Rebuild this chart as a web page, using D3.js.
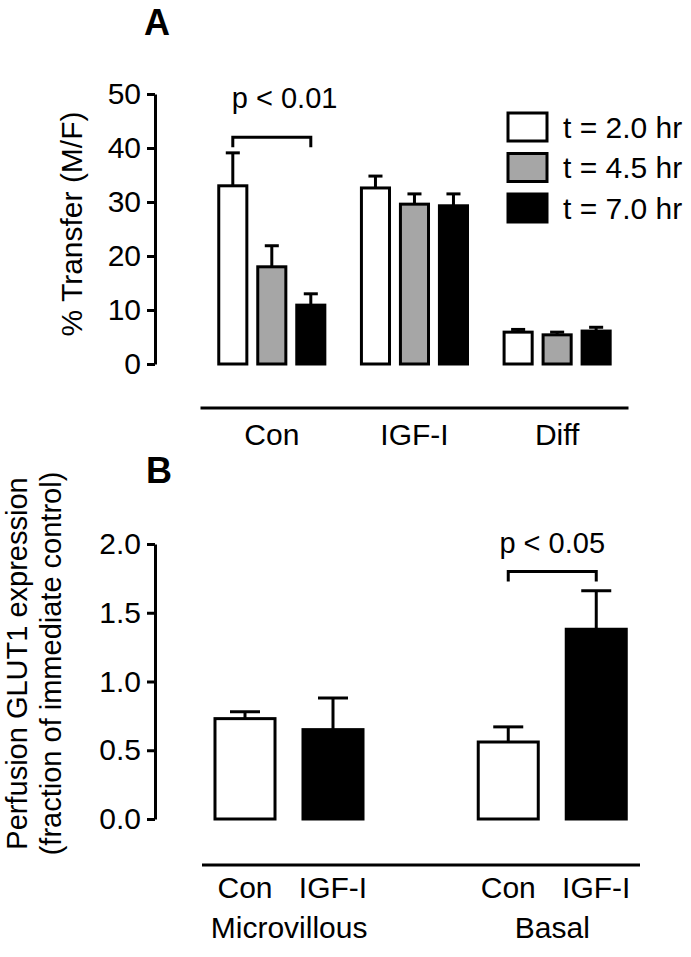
<!DOCTYPE html>
<html>
<head>
<meta charset="utf-8">
<script src="https://cdn.jsdelivr.net/npm/d3@7"></script>
<style>
  html, body { margin: 0; padding: 0; background: #fff; }
  svg { display: block; font-family: "Liberation Sans", Arial, sans-serif; }
</style>
</head>
<body>
<svg id="chart" width="691" height="957"></svg>
<script>
// ---------- Panel A data ----------
const groupsA = ["Con", "IGF-I", "Diff"];
const seriesA = ["t = 2.0 hr", "t = 4.5 hr", "t = 7.0 hr"];
const meansT20 = [33.0, 32.6, 5.9];
const meansT45 = [18.0, 29.6, 5.4];
const meansT70 = [10.9, 29.3, 6.1];
const errT20 = [6.1, 2.2, 0.5];
const errT45 = [3.9, 1.9, 0.5];
const errT70 = [2.1, 2.2, 0.7];
const ticksA = [0, 10, 20, 30, 40, 50];
const yLabelA = "% Transfer (M/F)";
const sigA = { group: "Con", from: "t = 2.0 hr", to: "t = 7.0 hr", level: 42, label: "p < 0.01" };

// ---------- Panel B data ----------
const groupsB = ["Microvillous", "Basal"];
const treatmentsB = ["Con", "IGF-I"];
const meansCon = [0.73, 0.56];
const meansIGF = [0.65, 1.38];
const errCon = [0.05, 0.11];
const errIGF = [0.23, 0.28];
const ticksB = [0.0, 0.5, 1.0, 1.5, 2.0];
const yLabelB = ["Perfusion GLUT1 expression", "(fraction of immediate control)"];
const sigB = { group: "Basal", from: "Con", to: "IGF-I", level: 1.8, label: "p < 0.05" };

const fills = ["#ffffff", "#a6a6a6", "#000000"];
const fillsB = ["#ffffff", "#000000"];

const svg = d3.select("#chart");
const SW = 3;

// ---------------- PANEL A ----------------
const yA = d3.scaleLinear().domain([0, 50]).range([364, 94]);
const xA = d3.scaleBand().domain(groupsA).range([200.5, 628.5]).padding(0);
const innerA = d3.scaleBand().domain(seriesA)
  .range([12.8, 129.8]).paddingInner(0.28).paddingOuter(0.14);

const rowsA = [];
groupsA.forEach((g, gi) => {
  [[meansT20, errT20], [meansT45, errT45], [meansT70, errT70]].forEach(([m, e], si) => {
    rowsA.push({ g, s: seriesA[si], si, v: m[gi], e: e[gi] });
  });
});

const gA = svg.append("g");
const axA = gA.append("g").attr("transform", "translate(155,0)")
  .call(d3.axisLeft(yA).tickValues(ticksA).tickSize(8).tickSizeOuter(0).tickPadding(6).tickFormat(d3.format("d")));
axA.select(".domain").attr("stroke-width", SW);
axA.selectAll(".tick line").attr("stroke-width", SW);
axA.selectAll(".tick text").attr("font-size", 30).attr("font-family", "Liberation Sans, Arial, sans-serif").attr("fill", "#000");

const bxA = d => xA(d.g) + innerA(d.s);
gA.selectAll("line.errA").data(rowsA).join("line")
  .attr("x1", d => bxA(d) + innerA.bandwidth() / 2)
  .attr("x2", d => bxA(d) + innerA.bandwidth() / 2)
  .attr("y1", d => yA(d.v)).attr("y2", d => yA(d.v + d.e))
  .attr("stroke", "#000").attr("stroke-width", SW);
gA.selectAll("line.capA").data(rowsA).join("line")
  .attr("x1", d => bxA(d) + innerA.bandwidth() / 4)
  .attr("x2", d => bxA(d) + innerA.bandwidth() * 3 / 4)
  .attr("y1", d => yA(d.v + d.e)).attr("y2", d => yA(d.v + d.e))
  .attr("stroke", "#000").attr("stroke-width", SW);
gA.selectAll("rect.barA").data(rowsA).join("rect")
  .attr("x", bxA).attr("width", innerA.bandwidth())
  .attr("y", d => yA(d.v)).attr("height", d => yA(0) - yA(d.v))
  .attr("fill", d => fills[d.si]).attr("stroke", "#000").attr("stroke-width", SW);

gA.append("line").attr("x1", xA.range()[0]).attr("x2", xA.range()[1])
  .attr("y1", 408).attr("y2", 408).attr("stroke", "#000").attr("stroke-width", SW);
gA.selectAll("text.catA").data(groupsA).join("text")
  .attr("x", d => xA(d) + xA.bandwidth() / 2).attr("y", 445)
  .attr("text-anchor", "middle").attr("font-size", 30).text(d => d);

gA.append("text").attr("transform", "translate(82,224) rotate(-90)")
  .attr("text-anchor", "middle").attr("font-size", 30).text(yLabelA);

svg.append("text").attr("x", 157).attr("y", 35).attr("text-anchor", "middle")
  .attr("font-size", 36).attr("font-weight", "bold").text("A");

{
  const x1 = xA(sigA.group) + innerA(sigA.from) + innerA.bandwidth() / 2;
  const x2 = xA(sigA.group) + innerA(sigA.to) + innerA.bandwidth() / 2;
  const yb = yA(sigA.level);
  gA.append("path").attr("d", `M${x1},${yb + 10}V${yb}H${x2}V${yb + 10}`)
    .attr("fill", "none").attr("stroke", "#000").attr("stroke-width", SW);
  gA.append("text").attr("x", x1 - 1).attr("y", 108).attr("font-size", 29).text(sigA.label);
}

const lg = svg.append("g").selectAll("g").data(seriesA).join("g")
  .attr("transform", (d, i) => `translate(508,${113 + i * 40.5})`);
lg.append("rect").attr("width", 39).attr("height", 28)
  .attr("fill", (d, i) => fills[i]).attr("stroke", "#000").attr("stroke-width", SW);
lg.append("text").attr("x", 55).attr("y", 14).attr("dy", "0.35em").attr("font-size", 30).text(d => d);

// ---------------- PANEL B ----------------
const yB = d3.scaleLinear().domain([0, 2]).range([819, 544]);
const xB = d3.scaleBand().domain(groupsB).range([157.5, 684]).padding(0);
const innerB = d3.scaleBand().domain(treatmentsB)
  .range([43.5, 219.5]).paddingInner(0.318).paddingOuter(0.159);

const rowsB = [];
groupsB.forEach((g, gi) => {
  [[meansCon, errCon], [meansIGF, errIGF]].forEach(([m, e], ti) => {
    rowsB.push({ g, t: treatmentsB[ti], ti, v: m[gi], e: e[gi] });
  });
});

const gB = svg.append("g");
const axB = gB.append("g").attr("transform", "translate(155,0)")
  .call(d3.axisLeft(yB).tickValues(ticksB).tickSize(8).tickSizeOuter(0).tickPadding(6).tickFormat(d3.format(".1f")));
axB.select(".domain").attr("stroke-width", SW);
axB.selectAll(".tick line").attr("stroke-width", SW);
axB.selectAll(".tick text").attr("font-size", 30).attr("font-family", "Liberation Sans, Arial, sans-serif").attr("fill", "#000");

const bxB = d => xB(d.g) + innerB(d.t);
gB.selectAll("line.errB").data(rowsB).join("line")
  .attr("x1", d => bxB(d) + innerB.bandwidth() / 2)
  .attr("x2", d => bxB(d) + innerB.bandwidth() / 2)
  .attr("y1", d => yB(d.v)).attr("y2", d => yB(d.v + d.e))
  .attr("stroke", "#000").attr("stroke-width", SW);
gB.selectAll("line.capB").data(rowsB).join("line")
  .attr("x1", d => bxB(d) + innerB.bandwidth() / 4)
  .attr("x2", d => bxB(d) + innerB.bandwidth() * 3 / 4)
  .attr("y1", d => yB(d.v + d.e)).attr("y2", d => yB(d.v + d.e))
  .attr("stroke", "#000").attr("stroke-width", SW);
gB.selectAll("rect.barB").data(rowsB).join("rect")
  .attr("x", bxB).attr("width", innerB.bandwidth())
  .attr("y", d => yB(d.v)).attr("height", d => yB(0) - yB(d.v))
  .attr("fill", d => fillsB[d.ti]).attr("stroke", "#000").attr("stroke-width", SW);

gB.append("line").attr("x1", 202).attr("x2", 640)
  .attr("y1", 865).attr("y2", 865).attr("stroke", "#000").attr("stroke-width", SW);
gB.selectAll("text.trtB").data(rowsB).join("text")
  .attr("x", d => bxB(d) + innerB.bandwidth() / 2).attr("y", 898)
  .attr("text-anchor", "middle").attr("font-size", 30).text(d => d.t);
gB.selectAll("text.grpB").data(groupsB).join("text")
  .attr("x", d => xB(d) + xB.bandwidth() / 2).attr("y", 938)
  .attr("text-anchor", "middle").attr("font-size", 30).text(d => d);

gB.selectAll("text.ylB").data(yLabelB).join("text")
  .attr("transform", (d, i) => `translate(${27 + i * 34},${(yB(0) + yB(2)) / 2 - 18}) rotate(-90)`)
  .attr("text-anchor", "middle").attr("font-size", 29).text(d => d);

svg.append("text").attr("x", 159).attr("y", 483).attr("text-anchor", "middle")
  .attr("font-size", 36).attr("font-weight", "bold").text("B");

{
  const x1 = xB(sigB.group) + innerB(sigB.from) + innerB.bandwidth() / 2;
  const x2 = xB(sigB.group) + innerB(sigB.to) + innerB.bandwidth() / 2;
  const yb = yB(sigB.level);
  gB.append("path").attr("d", `M${x1},${yb + 10}V${yb}H${x2}V${yb + 10}`)
    .attr("fill", "none").attr("stroke", "#000").attr("stroke-width", SW);
  gB.append("text").attr("x", (x1 + x2) / 2).attr("y", 553)
    .attr("text-anchor", "middle").attr("font-size", 29).text(sigB.label);
}
</script>
</body>
</html>
